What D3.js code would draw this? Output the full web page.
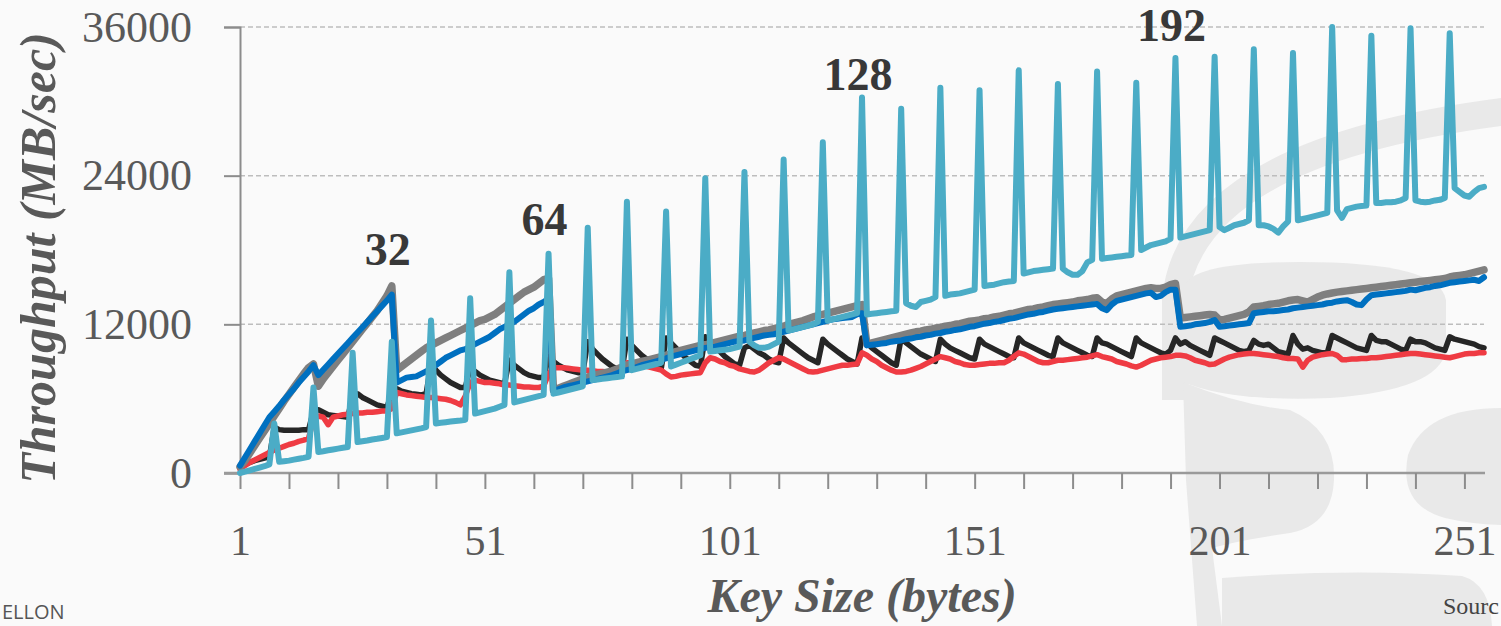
<!DOCTYPE html>
<html>
<head>
<meta charset="utf-8" />
<title>Key size throughput</title>
<style>
  html, body { margin: 0; padding: 0; background: #fafafa; }
  svg { display: block; }
</style>
</head>
<body>
<div id="chart"></div>
<script src="https://d3js.org/d3.v7.min.js"></script>
<script>
// key sizes 1..255, one value per key size (MB/sec)
var cyan = [
  0, 110, 220, 330, 440, 550, 700, 4000,
  900, 950, 1000, 1080, 1150, 1220, 1300, 6900,
  1700, 1760, 1830, 1900, 1970, 2040, 2100, 9700,
  2500, 2560, 2620, 2700, 2760, 2830, 2900, 10600,
  3200, 3280, 3360, 3440, 3520, 3600, 3700, 12300,
  4000, 4050, 4100, 4150, 4200, 4240, 4300, 14100,
  4800, 4900, 5000, 5100, 5200, 5350, 5500, 16200,
  5700, 5800, 5900, 6000, 6100, 6200, 6300, 17700,
  6400, 6500, 6600, 6700, 6800, 6900, 7000, 19800,
  7500, 7550, 7600, 7650, 7700, 7750, 7800, 21900,
  8300, 8400, 8500, 8600, 8700, 8800, 8900, 21100,
  8600, 8750, 8900, 9050, 9200, 9350, 9500, 23800,
  9800, 9850, 9900, 9950, 10000, 10100, 10200, 24300,
  10600, 10300, 10100, 10100, 10200, 10400, 10600, 25300,
  11500, 11600, 11700, 11800, 11900, 12000, 12200, 26700,
  12300, 12400, 12500, 12600, 12700, 12800, 12900, 30300,
  12800, 12850, 12900, 12950, 13000, 13050, 13100, 29400,
  13700, 13500, 13400, 13800, 13900, 14000, 14200, 31100,
  14300, 14400, 14450, 14500, 14600, 14700, 14800, 30900,
  15100, 15150, 15200, 15300, 15400, 15450, 15500, 32500,
  16100, 16200, 16300, 16350, 16400, 16450, 16500, 31400,
  16500, 16200, 16000, 16000, 16300, 17000, 17200, 32400,
  17300, 17350, 17400, 17450, 17500, 17550, 17600, 31500,
  18000, 18200, 18400, 18500, 18600, 18700, 18900, 33500,
  19000, 19100, 19200, 19300, 19400, 19500, 19600, 33600,
  19850, 19600, 19800, 20000, 20100, 20200, 20400, 34200,
  20000, 20000, 19900, 19700, 19400, 19900, 20300, 33900,
  20400, 20500, 20600, 20700, 20800, 20900, 21000, 36000,
  21200, 20600, 21300, 21400, 21500, 21550, 21600, 35300,
  21800, 21800, 21850, 21850, 21900, 22000, 22200, 35900,
  22000, 21900, 21850, 21900, 22000, 22050, 22200, 35500,
  23000, 22700, 22400, 22300, 22700, 23000, 23100
];
var gray = [
  500, 1000, 1600, 2200, 2800, 3400, 4000, 4600,
  5200, 5800, 6350, 6900, 7450, 8000, 8500, 8800,
  7000, 7600, 8100, 8600, 9100, 9600, 10100, 10600,
  11100, 11600, 12100, 12600, 13100, 13700, 14300, 15100,
  8300, 8600, 8900, 9200, 9500, 9800, 10100, 10300,
  10500, 10700, 10900, 11100, 11300, 11500, 11700, 11900,
  12100, 12300, 12400, 12600, 12800, 13100, 13400, 13700,
  14000, 14300, 14600, 14800, 15000, 15300, 15600, 15700,
  6700, 6850, 7000, 7150, 7300, 7450, 7600, 7750,
  7850, 7950, 8050, 8150, 8250, 8400, 8550, 8700,
  8800, 8900, 9000, 9100, 9200, 9300, 9400, 9500,
  9650, 9800, 9900, 10000, 10100, 10200, 10300, 10350,
  10450, 10550, 10650, 10750, 10850, 10950, 11050, 11100,
  11200, 11300, 11400, 11500, 11550, 11650, 11750, 11850,
  12000, 12100, 12200, 12300, 12450, 12600, 12700, 12800,
  12900, 13000, 13100, 13200, 13300, 13400, 13500, 13600,
  10400, 10500, 10600, 10700, 10800, 10900, 11000, 11100,
  11200, 11300, 11400, 11450, 11550, 11600, 11700, 11750,
  11850, 11900, 12000, 12050, 12150, 12250, 12300, 12350,
  12450, 12500, 12600, 12650, 12750, 12850, 12900, 13000,
  13100, 13200, 13250, 13350, 13400, 13500, 13600, 13650,
  13700, 13750, 13800, 13900, 13950, 14000, 14100, 14150,
  13800, 13700, 14050, 14300, 14400, 14500, 14600, 14700,
  14800, 14900, 14950, 14900, 14900, 15000, 15200, 15300,
  12500, 12550, 12600, 12650, 12700, 12750, 12800, 12750,
  12350, 12400, 12500, 12600, 12700, 12800, 13000, 13400,
  13450, 13500, 13600, 13650, 13700, 13800, 13900, 13960,
  14000, 13900, 13800, 14000, 14200, 14350, 14450, 14530,
  14600, 14650, 14700, 14750, 14800, 14850, 14900, 14950,
  15000, 15050, 15100, 15150, 15200, 15250, 15300, 15350,
  15400, 15450, 15500, 15550, 15600, 15650, 15700, 15820,
  15900, 15950, 16000, 16100, 16200, 16300, 16400
];
var blue = [
  600, 1250, 1900, 2550, 3200, 3850, 4500, 4950,
  5400, 5900, 6350, 6800, 7300, 7750, 8200, 8700,
  7900, 8330, 8760, 9190, 9620, 10050, 10480, 10910,
  11340, 11770, 12200, 12630, 13060, 13490, 13920, 14400,
  7300, 7500, 7700, 7750, 7800, 8000, 8200, 8400,
  8700, 9000, 9300, 9500, 9700, 9900, 10000, 10200,
  10400, 10600, 10800, 11000, 11300, 11600, 11800, 12000,
  12200, 12500, 12800, 13100, 13300, 13600, 13800, 14100,
  6600, 6750, 6900, 7000, 7100, 7200, 7300, 7400,
  7500, 7600, 7700, 7800, 7900, 8050, 8200, 8300,
  8400, 8550, 8700, 8800, 8900, 9000, 9150, 9250,
  9400, 9500, 9600, 9700, 9800, 9900, 10000, 10100,
  10150, 10200, 10300, 10400, 10500, 10600, 10650, 10700,
  10800, 10900, 11000, 11100, 11150, 11200, 11300, 11400,
  11500, 11600, 11700, 11800, 11900, 12000, 12100, 12200,
  12300, 12400, 12450, 12500, 12550, 12600, 12800, 12900,
  10300, 10350, 10400, 10450, 10500, 10600, 10650, 10700,
  10800, 10850, 10950, 11000, 11100, 11150, 11250, 11300,
  11400, 11450, 11550, 11600, 11700, 11800, 11850, 11950,
  12050, 12100, 12200, 12250, 12350, 12450, 12500, 12600,
  12700, 12800, 12850, 12950, 13000, 13100, 13200, 13250,
  13300, 13350, 13400, 13450, 13500, 13550, 13600, 13650,
  13300, 13150, 13600, 13900, 14000, 14100, 14200, 14300,
  14400, 14500, 14550, 14200, 14300, 14600, 14800, 14800,
  11800, 11850, 11900, 12000, 12050, 12100, 12200, 12350,
  11800, 11850, 11900, 11950, 12000, 12050, 12100, 12900,
  12950, 13000, 13050, 13050, 13100, 13150, 13200, 13300,
  13350, 13400, 13450, 13500, 13550, 13600, 13700, 13750,
  13850, 13900, 13950, 13800, 13600, 13550, 14000, 14350,
  14400, 14450, 14500, 14550, 14600, 14650, 14700, 14800,
  14750, 14850, 14950, 15000, 15100, 15150, 15250, 15350,
  15400, 15450, 15500, 15550, 15600, 15500, 15800
];
var black = [
  500, 700, 850, 1000, 1100, 1200, 1300, 3700,
  3500, 3450, 3450, 3450, 3450, 3500, 3500, 5000,
  5100, 4900, 4700, 4650, 4600, 4550, 4500, 6200,
  6400, 6100, 5900, 5700, 5500, 5400, 5300, 6500,
  6800, 6600, 6500, 6400, 6350, 6300, 6400, 8800,
  8300, 7900, 7600, 7300, 7100, 6900, 6900, 8500,
  8200, 7900, 7700, 7500, 7400, 7300, 7200, 9100,
  8700, 8400, 8100, 7900, 7800, 7700, 7700, 9400,
  9000, 8700, 8500, 8300, 8200, 8100, 8100, 10600,
  10000, 9600, 9200, 8900, 8600, 8400, 8300, 10800,
  10300, 9900, 9500, 9200, 8900, 8600, 8400, 10900,
  10500, 10100, 9700, 9300, 9000, 8700, 8600, 11000,
  10600, 10200, 9800, 9400, 9100, 8800, 8700, 10100,
  10300, 10000, 9700, 9500, 9200, 9000, 8900, 10900,
  10500, 10200, 9900, 9600, 9300, 9100, 8900, 10800,
  10400, 10100, 9800, 9500, 9200, 9000, 8800, 10900,
  10500, 10100, 9800, 9500, 9200, 8900, 8700, 10900,
  10500, 10200, 9900, 9600, 9400, 9200, 9000, 10800,
  10400, 10100, 9900, 9700, 9500, 9300, 9200, 10800,
  10400, 10200, 10000, 9800, 9600, 9400, 9300, 10900,
  10500, 10300, 10100, 9900, 9700, 9500, 9400, 10900,
  10500, 10300, 10100, 9900, 9700, 9500, 9400, 10900,
  10500, 10400, 10200, 10000, 9800, 9600, 9400, 10900,
  10500, 10300, 10100, 9900, 9700, 9600, 9900, 10900,
  10400, 10600, 10300, 10100, 9900, 9700, 9500, 10900,
  10700, 10500, 10300, 10100, 9900, 9800, 9900, 10700,
  10400, 10300, 10400, 10100, 9800, 9700, 9600, 11100,
  10400, 10000, 10100, 9900, 9800, 9700, 9700, 11100,
  10900, 10700, 10500, 10300, 10100, 10000, 9900, 11100,
  10700, 10600, 10600, 10400, 10200, 10000, 9900, 10800,
  10600, 10600, 10500, 10300, 10100, 10000, 9900, 11000,
  10800, 10700, 10600, 10500, 10400, 10200, 10100
];
var red = [
  300, 600, 850, 1050, 1250, 1450, 1650, 1850,
  2000, 2150, 2300, 2400, 2550, 2650, 2800, 4300,
  4600, 4500, 3900, 4500, 4600, 4700, 4750, 4800,
  4850, 4850, 4900, 4900, 4950, 5000, 5000, 5200,
  6500, 6400, 6300, 6250, 6200, 6150, 6100, 6100,
  6050, 6000, 5950, 5850, 5700, 5500, 6200, 7300,
  7500, 7400, 7300, 7300, 7250, 7200, 7100, 7100,
  7050, 7000, 6950, 6950, 6900, 6900, 7000, 8000,
  8500, 8500, 8500, 8450, 8400, 8350, 8300, 8300,
  8250, 8200, 8200, 8150, 8150, 8100, 8100, 8900,
  8900, 8800, 8700, 8600, 8500, 8400, 8300, 8000,
  7750, 7800, 7900, 7950, 8000, 8050, 8100, 8900,
  9300, 9200, 9000, 8900, 8700, 8600, 8400, 8300,
  8200, 8150, 8300, 8600, 8900, 9100, 9300, 9200,
  9000, 8800, 8600, 8400, 8200, 8150, 8200, 8300,
  8400, 8500, 8600, 8700, 8700, 8750, 8800, 9700,
  9500, 9200, 9000, 8700, 8500, 8300, 8150, 8150,
  8200, 8300, 8450, 8600, 8800, 9000, 9200, 9400,
  9300, 9200, 9000, 8900, 8750, 8700, 8700, 8750,
  8800, 8850, 8850, 8900, 8900, 9100, 9400, 9700,
  9600, 9400, 9200, 9000, 8900, 8900, 9000, 9100,
  9100, 9150, 9200, 9250, 9300, 9350, 9450, 9550,
  9400, 9300, 9200, 9000, 8900, 8800, 8650, 8550,
  8700, 8900, 9100, 9200, 9300, 9350, 9400, 9500,
  9500, 9450, 9300, 9100, 9000, 8900, 8750, 8800,
  9000, 9200, 9350, 9450, 9550, 9600, 9650, 9650,
  9600, 9550, 9500, 9450, 9400, 9300, 9250, 9250,
  9200, 8550, 9100, 9350, 9450, 9550, 9600, 9650,
  9500, 9150, 9150, 9200, 9200, 9250, 9250, 9300,
  9300, 9350, 9400, 9450, 9500, 9550, 9600, 9650,
  9650, 9600, 9550, 9500, 9450, 9400, 9350, 9300,
  9400, 9500, 9600, 9650, 9650, 9700, 9700
];
var xTickLabels = [1, 51, 101, 151, 201, 251];
var yTicks = [0, 12000, 24000, 36000];
var notes = [
  { key: 32, label: '32', value: 16800 },
  { key: 64, label: '64', value: 19200 },
  { key: 128, label: '128', value: 30900 },
  { key: 192, label: '192', value: 34900 }
];

var width = 1501;
var height = 626;
var serif = '"Liberation Serif", "DejaVu Serif", serif';

var svg = d3.select('#chart')
  .append('svg')
  .attr('width', width)
  .attr('height', height);

svg.append('rect')
  .attr('width', width)
  .attr('height', height)
  .attr('fill', '#fafafa');

// faint logo watermark behind the chart
var mark = svg.append('g').attr('fill', '#e9e9e9');
mark.append('path')
  .attr('d', 'M1162,400 L1162,300 Q1175,140 1501,98 L1501,126 Q1205,165 1188,300 L1188,400 Z');
mark.append('path')
  .attr('d', 'M1183,290 Q1185,262 1300,262 Q1440,262 1446,300 L1446,350 Q1440,390 1330,398 Q1230,402 1183,382 Z');
mark.append('path')
  .attr('d', 'M1183,382 Q1240,405 1290,410 Q1336,430 1334,480 Q1332,525 1290,533 Q1240,540 1212,548 L1222,626 L1197,626 L1186,480 Z');
mark.append('path')
  .attr('d', 'M1501,408 Q1425,408 1408,455 Q1398,505 1445,518 Q1470,524 1501,525 Z');
mark.append('path')
  .attr('d', 'M1222,578 Q1350,568 1462,576 Q1490,584 1492,626 L1222,626 Z');

var x = d3.scaleLinear()
  .domain([1, 255])
  .range([240, 1484]);

var y = d3.scaleLinear()
  .domain([0, 36000])
  .range([473, 27]);

// dashed grid
svg.append('g')
  .selectAll('line')
  .data(yTicks.slice(1))
  .enter()
  .append('line')
  .attr('x1', x(1))
  .attr('x2', x(255))
  .attr('y1', function(d) { return y(d); })
  .attr('y2', function(d) { return y(d); })
  .attr('stroke', '#bdbdbd')
  .attr('stroke-width', 1.5)
  .attr('stroke-dasharray', '5,3');

// y axis
var yAxis = svg.append('g')
  .attr('transform', 'translate(' + x(1) + ',0)')
  .call(d3.axisLeft(y).tickValues(yTicks).tickSize(16).tickPadding(32)
    .tickFormat(d3.format('d')));
yAxis.select('.domain').attr('stroke', '#8c8c8c').attr('stroke-width', 2);
yAxis.selectAll('.tick line').attr('stroke', '#8c8c8c').attr('stroke-width', 2);
yAxis.selectAll('.tick text')
  .attr('font-family', serif)
  .attr('font-size', 44)
  .attr('fill', '#595959');

// x axis
var xAxis = svg.append('g')
  .attr('transform', 'translate(0,' + y(0) + ')')
  .call(d3.axisBottom(x).tickValues(d3.range(1, 256, 10)).tickSize(16).tickSizeOuter(0)
    .tickFormat(function(d) { return xTickLabels.indexOf(d) >= 0 ? d : ''; }));
xAxis.select('.domain')
  .attr('d', 'M224,0H' + (x(255) + 1))
  .attr('stroke', '#9a9a9a').attr('stroke-width', 2.5);
xAxis.selectAll('.tick line').attr('stroke', '#8c8c8c').attr('stroke-width', 2);
xAxis.selectAll('.tick text')
  .attr('font-family', serif)
  .attr('font-size', 42)
  .attr('fill', '#595959')
  .attr('y', 52)
  .attr('dy', '0.71em');

var line = d3.line()
  .x(function(d, i) { return x(i + 1); })
  .y(function(d) { return y(d); })
  .curve(d3.curveLinear);

var series = [
  { values: black, color: '#262626', width: 5.5 },
  { values: red, color: '#ef3b43', width: 5.5 },
  { values: gray, color: '#7f7f7f', width: 7.5 },
  { values: blue, color: '#0070c0', width: 6 },
  { values: cyan, color: '#4bacc6', width: 6 }
];

svg.append('g')
  .selectAll('path')
  .data(series)
  .enter()
  .append('path')
  .attr('d', function(d) { return line(d.values); })
  .attr('fill', 'none')
  .attr('stroke', function(d) { return d.color; })
  .attr('stroke-width', function(d) { return d.width; })
  .attr('stroke-linejoin', 'round')
  .attr('stroke-linecap', 'round');

svg.append('g')
  .selectAll('text')
  .data(notes)
  .enter()
  .append('text')
  .attr('x', function(d) { return x(d.key) - 4; })
  .attr('y', function(d) { return y(d.value); })
  .attr('text-anchor', 'middle')
  .attr('font-family', serif)
  .attr('font-weight', 'bold')
  .attr('font-size', 46)
  .attr('fill', '#383838')
  .text(function(d) { return d.label; });

// axis titles
svg.append('text')
  .attr('transform', 'translate(55,258) rotate(-90)')
  .attr('text-anchor', 'middle')
  .attr('font-family', serif)
  .attr('font-weight', 'bold')
  .attr('font-style', 'italic')
  .attr('font-size', 50)
  .attr('fill', '#595959')
  .text('Throughput (MB/sec)');

svg.append('text')
  .attr('x', 862)
  .attr('y', 612)
  .attr('text-anchor', 'middle')
  .attr('font-family', serif)
  .attr('font-weight', 'bold')
  .attr('font-style', 'italic')
  .attr('font-size', 48)
  .attr('fill', '#595959')
  .text('Key Size (bytes)');

// slide footer bits, as far as they show in the frame
svg.append('text')
  .attr('x', 2)
  .attr('y', 619)
  .attr('font-family', '"Open Sans", sans-serif')
  .attr('font-size', 20)
  .attr('fill', '#555')
  .text('ELLON');

svg.append('text')
  .attr('x', 1499)
  .attr('y', 614)
  .attr('text-anchor', 'end')
  .attr('font-family', serif)
  .attr('font-size', 24)
  .attr('fill', '#444')
  .text('Sourc');
</script>
</body>
</html>
